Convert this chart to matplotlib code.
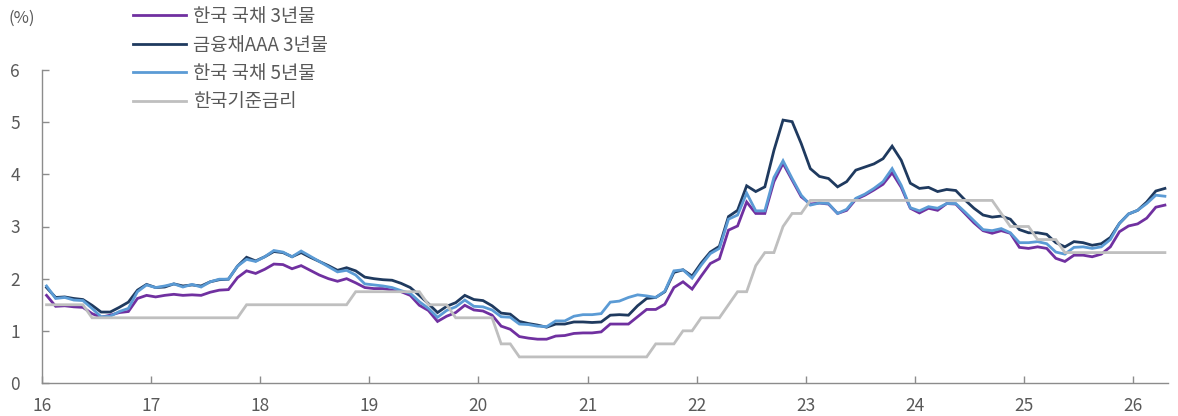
import numpy as np
import matplotlib
matplotlib.use('Agg')
import matplotlib.pyplot as plt

plt.rcParams['font.family'] = ['Noto Sans CJK KR', 'DejaVu Sans']

# monthly data, Jan 2016 - Apr 2026 (%)
start_year = 2016
n_months = 124

ktb_3y = [1.68, 1.47, 1.48, 1.46, 1.45, 1.33, 1.26, 1.30, 1.35, 1.37, 1.62, 1.68,
          1.65, 1.68, 1.70, 1.68, 1.69, 1.68, 1.74, 1.78, 1.79, 2.02, 2.15, 2.10,
          2.18, 2.28, 2.27, 2.19, 2.25, 2.16, 2.07, 2.00, 1.95, 2.00, 1.92, 1.83,
          1.81, 1.81, 1.78, 1.75, 1.68, 1.49, 1.39, 1.18, 1.28, 1.35, 1.49, 1.40,
          1.38, 1.30, 1.09, 1.03, 0.89, 0.86, 0.84, 0.84, 0.90, 0.91, 0.95, 0.96,
          0.96, 0.98, 1.13, 1.13, 1.13, 1.27, 1.41, 1.41, 1.51, 1.83, 1.94, 1.80,
          2.05, 2.29, 2.38, 2.93, 3.01, 3.47, 3.25, 3.25, 3.86, 4.21, 3.89, 3.57,
          3.43, 3.45, 3.43, 3.25, 3.31, 3.52, 3.60, 3.70, 3.81, 4.03, 3.75, 3.35,
          3.26, 3.35, 3.31, 3.44, 3.43, 3.25, 3.07, 2.92, 2.87, 2.92, 2.87, 2.60,
          2.58, 2.61, 2.58, 2.39, 2.33, 2.45, 2.45, 2.42, 2.47, 2.61, 2.90, 3.01,
          3.05, 3.16, 3.37, 3.41]

fin_aaa_3y = [1.83, 1.64, 1.65, 1.62, 1.60, 1.49, 1.36, 1.36, 1.45, 1.55, 1.78, 1.89,
              1.83, 1.84, 1.90, 1.86, 1.88, 1.86, 1.94, 1.98, 1.99, 2.24, 2.41, 2.34,
              2.42, 2.52, 2.50, 2.42, 2.50, 2.41, 2.33, 2.25, 2.16, 2.21, 2.15, 2.03,
              2.00, 1.98, 1.97, 1.91, 1.83, 1.68, 1.52, 1.35, 1.47, 1.54, 1.68, 1.60,
              1.58, 1.48, 1.34, 1.32, 1.18, 1.14, 1.11, 1.07, 1.13, 1.13, 1.17, 1.17,
              1.16, 1.17, 1.30, 1.31, 1.30, 1.48, 1.62, 1.64, 1.75, 2.12, 2.17, 2.05,
              2.30, 2.51, 2.62, 3.19, 3.31, 3.78, 3.67, 3.76, 4.46, 5.04, 5.01, 4.59,
              4.11, 3.96, 3.92, 3.76, 3.86, 4.08, 4.14, 4.20, 4.30, 4.54, 4.27, 3.83,
              3.73, 3.75, 3.67, 3.71, 3.69, 3.51, 3.35, 3.22, 3.18, 3.20, 3.14, 2.94,
              2.88, 2.88, 2.85, 2.69, 2.61, 2.71, 2.69, 2.64, 2.67, 2.79, 3.06, 3.24,
              3.31, 3.47, 3.68, 3.73]

ktb_5y = [1.86, 1.62, 1.64, 1.59, 1.58, 1.43, 1.27, 1.28, 1.37, 1.43, 1.75, 1.88,
          1.83, 1.86, 1.90, 1.84, 1.89, 1.84, 1.94, 1.99, 1.99, 2.24, 2.37, 2.33,
          2.42, 2.54, 2.51, 2.42, 2.53, 2.43, 2.33, 2.23, 2.13, 2.16, 2.07, 1.90,
          1.88, 1.86, 1.83, 1.77, 1.72, 1.56, 1.43, 1.26, 1.39, 1.46, 1.59, 1.47,
          1.46, 1.40, 1.27, 1.26, 1.13, 1.12, 1.09, 1.08, 1.19, 1.19, 1.28, 1.31,
          1.31, 1.33, 1.55, 1.57, 1.64, 1.69, 1.67, 1.64, 1.76, 2.15, 2.17, 2.01,
          2.26, 2.48, 2.58, 3.14, 3.22, 3.64, 3.30, 3.30, 3.94, 4.26, 3.92, 3.60,
          3.41, 3.45, 3.44, 3.25, 3.33, 3.54, 3.62, 3.73, 3.86, 4.11, 3.79, 3.36,
          3.30, 3.38, 3.35, 3.44, 3.44, 3.28, 3.11, 2.94, 2.92, 2.96, 2.88, 2.69,
          2.69, 2.71, 2.67, 2.51, 2.47, 2.60, 2.61, 2.58, 2.61, 2.75, 3.06, 3.24,
          3.31, 3.44, 3.60, 3.58]

base_rate = [1.50, 1.50, 1.50, 1.50, 1.50, 1.25, 1.25, 1.25, 1.25, 1.25, 1.25, 1.25,
             1.25, 1.25, 1.25, 1.25, 1.25, 1.25, 1.25, 1.25, 1.25, 1.25, 1.50, 1.50,
             1.50, 1.50, 1.50, 1.50, 1.50, 1.50, 1.50, 1.50, 1.50, 1.50, 1.75, 1.75,
             1.75, 1.75, 1.75, 1.75, 1.75, 1.75, 1.50, 1.50, 1.50, 1.25, 1.25, 1.25,
             1.25, 1.25, 0.75, 0.75, 0.50, 0.50, 0.50, 0.50, 0.50, 0.50, 0.50, 0.50,
             0.50, 0.50, 0.50, 0.50, 0.50, 0.50, 0.50, 0.75, 0.75, 0.75, 1.00, 1.00,
             1.25, 1.25, 1.25, 1.50, 1.75, 1.75, 2.25, 2.50, 2.50, 3.00, 3.25, 3.25,
             3.50, 3.50, 3.50, 3.50, 3.50, 3.50, 3.50, 3.50, 3.50, 3.50, 3.50, 3.50,
             3.50, 3.50, 3.50, 3.50, 3.50, 3.50, 3.50, 3.50, 3.50, 3.25, 3.00, 3.00,
             3.00, 2.75, 2.75, 2.75, 2.50, 2.50, 2.50, 2.50, 2.50, 2.50, 2.50, 2.50,
             2.50, 2.50, 2.50, 2.50]

labels = ['한국 국채 3년물', '금융채AAA 3년물', '한국 국채 5년물', '한국기준금리']
colors = ['#7030A0', '#1F3A5F', '#5B9BD5', '#BFBFBF']
year_ticks = list(range(16, 27))

# x in two-digit years, points at mid-month
t = 16 + (np.arange(n_months) + 0.5) / 12

fig = plt.figure(figsize=(11.78, 4.16), dpi=100)
ax = fig.add_axes([42 / 1178, 1 - 383 / 416, 1126 / 1178, 313 / 416])

series = [ktb_3y, fin_aaa_3y, ktb_5y, base_rate]
for vals, lab, col in zip(series, labels, colors):
    ax.plot(t, vals, color=col, lw=2.0, label=lab, solid_joinstyle='miter')

ax.set_xlim(16, 26.32)
ax.set_ylim(0, 6)
ax.set_xticks(year_ticks)
ax.set_xticklabels([str(y) for y in year_ticks])
ax.set_yticks(range(0, 7))

for s in ['top', 'right']:
    ax.spines[s].set_visible(False)
for s in ['left', 'bottom']:
    ax.spines[s].set_color('#8C8C8C')
    ax.spines[s].set_linewidth(1.0)

ax.tick_params(axis='both', direction='in', length=5, width=1, color='#8C8C8C',
               labelcolor='#595959', labelsize=12.5)
ax.tick_params(axis='y', pad=16)
ax.tick_params(axis='x', pad=10)

fig.text(8 / 1178, 1 - 18 / 416, '(%)', fontsize=12, color='#595959', va='center', ha='left')

fig.legend(loc='upper left', bbox_to_anchor=(133 / 1178, 1 - 6 / 416), frameon=False,
           fontsize=13.5, labelcolor='#595959', handlelength=2.8, handletextpad=0.4,
           labelspacing=0.4, borderpad=0, borderaxespad=0)

fig.savefig('out.png', dpi=100)
